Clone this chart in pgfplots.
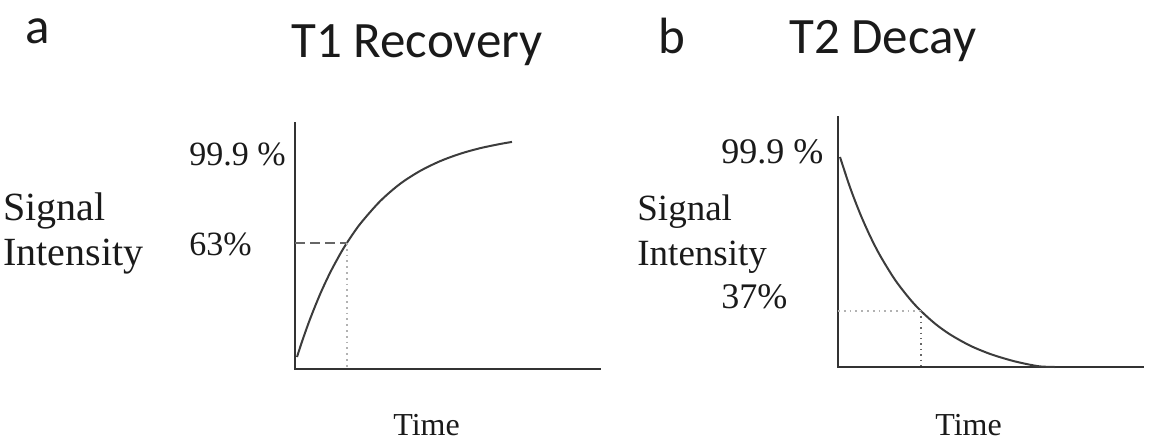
\documentclass[border=0pt]{standalone}
\usepackage{pgfplots}
\pgfplotsset{compat=1.18}
\usepackage{fontspec}
\setmainfont{Liberation Serif}
\newfontfamily\calibri{Carlito}
\definecolor{axc}{HTML}{333333}
\definecolor{crv}{HTML}{3C3C3C}
\definecolor{txt}{HTML}{1A1A1A}
\begin{document}
\begin{tikzpicture}
\path[use as bounding box] (0,0) rectangle (576pt,223.5pt);
\pgfplotsset{
  myax/.style={
    scale only axis, width=152.5pt,
    xmin=0, xmax=305, ymin=0,
    xtick=\empty, ytick=\empty,
    axis x line*=bottom, axis y line*=left,
    axis line style={-, line width=1.4pt, color=axc, line cap=rect},
    clip=false,
  }
}
% ---------- panel a ----------
\begin{axis}[myax, at={(147.5pt,39pt)}, anchor=south west, height=123pt, ymax=246]
\addplot[crv, line width=1pt, smooth] coordinates {
(2,12) (7,27.4) (15,49.8) (25,74.6) (35,96.1) (45,114.7) (52,126.2)
(65,144.9) (85,167.7) (105,185.1) (125,198) (145,207.8) (165,215.2)
(185,220.8) (205,225) (217,227.1)};
\addplot[gray!80!black, line width=0.9pt, dash pattern=on 5pt off 2.5pt] coordinates {(0,126) (52,126)};
\addplot[gray!60, line width=0.9pt, dotted] coordinates {(52,126) (52,0)};
\end{axis}
% ---------- panel b ----------
\begin{axis}[myax, at={(419pt,40pt)}, anchor=south west, height=125pt, ymax=250]
\addplot[crv, line width=1pt, smooth] coordinates {
(2,210) (12,179.7) (22,153.6) (32,131.1) (42,111.6) (57,87.2) (72,67.8)
(83,56) (97,43.4) (112,32.6) (132,21.4) (152,13.1) (172,6.9) (187,3.3)
(202,0.6) (217,0)};
\addplot[gray!60, line width=0.9pt, dotted] coordinates {(0,56) (83,56)};
\addplot[gray!80!black, line width=0.7pt, dotted] coordinates {(83,56) (83,0)};
\end{axis}
% ---------- texts ----------
\begin{scope}[x=0.5pt, y=-0.5pt, shift={(0pt,223.5pt)},
  every node/.style={inner sep=0pt, anchor=base west, text=txt}]
\node at (25,43) {\calibri\fontsize{25.5pt}{25.5pt}\selectfont a};
\node at (291,57) {\calibri\fontsize{25.5pt}{25.5pt}\selectfont T1 Recovery};
\node at (658,53) {\calibri\fontsize{25.5pt}{25.5pt}\selectfont b};
\node at (789,53) {\calibri\fontsize{25.5pt}{25.5pt}\selectfont T2 Decay};
\node at (189,165) {\fontsize{17pt}{17pt}\selectfont 99.9 \%};
\node at (189,255) {\fontsize{17pt}{17pt}\selectfont 63\%};
\node at (3,220) {\fontsize{20pt}{20pt}\selectfont Signal};
\node at (3,265) {\fontsize{20pt}{20pt}\selectfont Intensity};
\node at (393,435) {\fontsize{16pt}{16pt}\selectfont Time};
\node at (721,163) {\fontsize{18pt}{18pt}\selectfont 99.9 \%};
\node at (721,308) {\fontsize{18pt}{18pt}\selectfont 37\%};
\node at (637,220) {\fontsize{18.5pt}{18.5pt}\selectfont Signal};
\node at (637,265) {\fontsize{18.5pt}{18.5pt}\selectfont Intensity};
\node at (935,435) {\fontsize{16pt}{16pt}\selectfont Time};
\end{scope}
\end{tikzpicture}
\end{document}
